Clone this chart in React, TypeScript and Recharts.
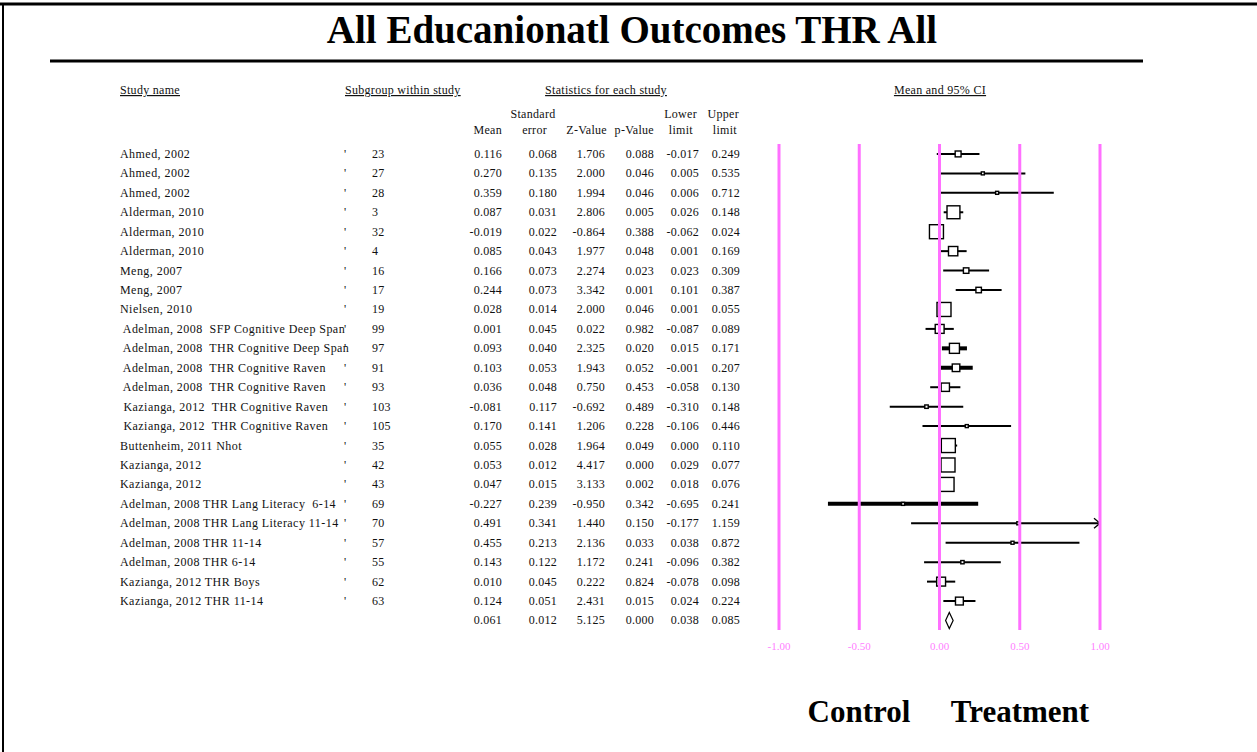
import React from 'react';
import { ComposedChart, Bar, XAxis, YAxis, ReferenceLine } from 'recharts';

// ---- Study data -------------------------------------------------------
const studyNames = [
  'Ahmed, 2002', 'Ahmed, 2002', 'Ahmed, 2002',
  'Alderman, 2010', 'Alderman, 2010', 'Alderman, 2010',
  'Meng, 2007', 'Meng, 2007', 'Nielsen, 2010',
  ' Adelman, 2008  SFP Cognitive Deep Span',
  ' Adelman, 2008  THR Cognitive Deep Span',
  ' Adelman, 2008  THR Cognitive Raven',
  ' Adelman, 2008  THR Cognitive Raven',
  ' Kazianga, 2012  THR Cognitive Raven',
  ' Kazianga, 2012  THR Cognitive Raven',
  'Buttenheim, 2011 Nhot',
  'Kazianga, 2012', 'Kazianga, 2012',
  'Adelman, 2008 THR Lang Literacy  6-14',
  'Adelman, 2008 THR Lang Literacy 11-14',
  'Adelman, 2008 THR 11-14',
  'Adelman, 2008 THR 6-14',
  'Kazianga, 2012 THR Boys',
  'Kazianga, 2012 THR 11-14',
];
const subgroups = ['23', '27', '28', '3', '32', '4', '16', '17', '19', '99', '97', '91', '93', '103', '105', '35', '42', '43', '69', '70', '57', '55', '62', '63'];
const means = [0.116, 0.270, 0.359, 0.087, -0.019, 0.085, 0.166, 0.244, 0.028, 0.001, 0.093, 0.103, 0.036, -0.081, 0.170, 0.055, 0.053, 0.047, -0.227, 0.491, 0.455, 0.143, 0.010, 0.124];
const stdErrors = [0.068, 0.135, 0.180, 0.031, 0.022, 0.043, 0.073, 0.073, 0.014, 0.045, 0.040, 0.053, 0.048, 0.117, 0.141, 0.028, 0.012, 0.015, 0.239, 0.341, 0.213, 0.122, 0.045, 0.051];
const zValues = [1.706, 2.000, 1.994, 2.806, -0.864, 1.977, 2.274, 3.342, 2.000, 0.022, 2.325, 1.943, 0.750, -0.692, 1.206, 1.964, 4.417, 3.133, -0.950, 1.440, 2.136, 1.172, 0.222, 2.431];
const pValues = [0.088, 0.046, 0.046, 0.005, 0.388, 0.048, 0.023, 0.001, 0.046, 0.982, 0.020, 0.052, 0.453, 0.489, 0.228, 0.049, 0.000, 0.002, 0.342, 0.150, 0.033, 0.241, 0.824, 0.015];
const lowerLimits = [-0.017, 0.005, 0.006, 0.026, -0.062, 0.001, 0.023, 0.101, 0.001, -0.087, 0.015, -0.001, -0.058, -0.310, -0.106, 0.000, 0.029, 0.018, -0.695, -0.177, 0.038, -0.096, -0.078, 0.024];
const upperLimits = [0.249, 0.535, 0.712, 0.148, 0.024, 0.169, 0.309, 0.387, 0.055, 0.089, 0.171, 0.207, 0.130, 0.148, 0.446, 0.110, 0.077, 0.076, 0.241, 1.159, 0.872, 0.382, 0.098, 0.224];

// Pooled estimate
const pooledMean = 0.061;
const pooledSE = 0.012;
const pooledZ = 5.125;
const pooledP = 0.000;
const pooledLower = 0.038;
const pooledUpper = 0.085;

const axisTicks = [-1, -0.5, 0, 0.5, 1];

// ---- Styling ----------------------------------------------------------
const SERIF = "'Liberation Serif', 'Times New Roman', serif";
const MAGENTA = '#ff70ff';
const TEXT = '#111';
const THICK_ROWS = new Set([10, 11, 18]);
const AXIS_MAX = 1;

type Row = {
  id: string;
  kind: 'study' | 'summary';
  name: string;
  subgroup: string;
  mean: number;
  se: number;
  z: number;
  p: number;
  lower: number;
  upper: number;
  ci: [number, number];
  idx: number;
};

const rows: Row[] = [
  ...studyNames.map((name, i) => ({
    id: `s${i}`,
    kind: 'study' as const,
    name,
    subgroup: subgroups[i],
    mean: means[i],
    se: stdErrors[i],
    z: zValues[i],
    p: pValues[i],
    lower: lowerLimits[i],
    upper: upperLimits[i],
    ci: [lowerLimits[i], upperLimits[i]] as [number, number],
    idx: i,
  })),
  {
    id: 'pooled',
    kind: 'summary',
    name: '',
    subgroup: '',
    mean: pooledMean,
    se: pooledSE,
    z: pooledZ,
    p: pooledP,
    lower: pooledLower,
    upper: pooledUpper,
    ci: [pooledLower, pooledUpper],
    idx: studyNames.length,
  },
];

const rowById = new Map(rows.map((r) => [r.id, r]));
const f3 = (v: number) => v.toFixed(3);

// Statistics columns: right edges of each numeric column
const numCols: { key: keyof Row; right: number }[] = [
  { key: 'mean', right: 502 },
  { key: 'se', right: 557 },
  { key: 'z', right: 605 },
  { key: 'p', right: 654 },
  { key: 'lower', right: 699 },
  { key: 'upper', right: 740 },
];

// Renders the table part of each row, aligned on the category band
const RowText = (props: any) => {
  const { y, payload } = props;
  const row = rowById.get(payload.value);
  if (!row) return null;
  const common = { y, dy: '0.35em', fontSize: 12, fontFamily: SERIF, fill: TEXT, letterSpacing: 0.25 };
  return (
    <g>
      {row.kind === 'study' && (
        <>
          <text {...common} letterSpacing={0.45} x={120} style={{ whiteSpace: 'pre' }}>{row.name}</text>
          <text {...common} x={344}>'</text>
          <text {...common} x={372}>{row.subgroup}</text>
        </>
      )}
      {numCols.map((c) => (
        <text key={c.key} {...common} x={c.right} textAnchor="end">
          {f3(row[c.key] as number)}
        </text>
      ))}
    </g>
  );
};

// Confidence interval line, weighted square, or pooled diamond
const ForestMark = (props: any) => {
  const { x, y, width, height, payload } = props;
  const row: Row = payload;
  if (!row || width == null) return null;
  const lo = row.lower;
  const hi = row.upper;
  const px = (v: number) => x + (width * (v - lo)) / (hi - lo);
  const cy = y + height / 2;
  if (row.kind === 'summary') {
    const xl = px(lo);
    const xr = px(hi);
    const xm = px(row.mean);
    return (
      <polygon
        points={`${xl},${cy} ${xm},${cy - 8} ${xr},${cy} ${xm},${cy + 8}`}
        fill="#fff"
        stroke="#000"
        strokeWidth={1.2}
      />
    );
  }
  const clipped = hi > AXIS_MAX;
  const xl = px(lo);
  const xr = px(clipped ? AXIS_MAX : hi);
  const xm = px(row.mean);
  const size = Math.max(3, Math.min(14, 0.4 / row.se));
  const sw = THICK_ROWS.has(row.idx) ? 4 : 2;
  return (
    <g>
      <line x1={xl} y1={cy} x2={xr} y2={cy} stroke="#000" strokeWidth={sw} />
      {clipped && (
        <polyline
          points={`${xr - 6},${cy - 5} ${xr},${cy} ${xr - 6},${cy + 5}`}
          fill="none"
          stroke="#000"
          strokeWidth={1.3}
        />
      )}
      <rect
        x={xm - size / 2}
        y={cy - size / 2}
        width={size}
        height={size}
        fill="#fff"
        stroke="#000"
        strokeWidth={1.4}
      />
    </g>
  );
};

const W = 1257;
const H = 752;

export default function App() {
  const hdr = { fontSize: 12, fontFamily: SERIF, fill: TEXT, letterSpacing: 0.3 };
  return (
    <div style={{ position: 'absolute', left: 0, top: 0, width: W, height: H, background: '#fff', overflow: 'hidden' }}>
      <ComposedChart
        width={W}
        height={H}
        layout="vertical"
        data={rows}
        margin={{ top: 144, right: 157, bottom: 92, left: 0 }}
      >
        <XAxis
          type="number"
          domain={[-1, 1]}
          allowDataOverflow
          ticks={axisTicks}
          tickFormatter={(v: number) => v.toFixed(2)}
          axisLine={false}
          tickLine={false}
          tickMargin={6}
          height={30}
          tick={{ fill: '#ff80ff', fontSize: 11, fontFamily: SERIF }}
        />
        <YAxis
          type="category"
          dataKey="id"
          width={779}
          interval={0}
          axisLine={false}
          tickLine={false}
          tick={RowText}
        />
        {axisTicks.map((t) => (
          <ReferenceLine key={t} x={t} stroke={MAGENTA} strokeWidth={3} />
        ))}
        <Bar dataKey="ci" shape={ForestMark} isAnimationActive={false} />
      </ComposedChart>

      <svg
        width={W}
        height={H}
        style={{ position: 'absolute', left: 0, top: 0, pointerEvents: 'none' }}
      >
        {/* frame */}
        <line x1={0} y1={4} x2={W} y2={4} stroke="#000" strokeWidth={3} />
        <line x1={3} y1={3} x2={3} y2={H} stroke="#000" strokeWidth={2} />

        {/* title and rule */}
        <text x={632} y={43} textAnchor="middle" fontFamily={SERIF} fontWeight="bold" fontSize={39} fill="#000">
          All Educanionatl Outcomes THR All
        </text>
        <line x1={50} y1={61} x2={1143} y2={61} stroke="#000" strokeWidth={3} />

        {/* column group headers */}
        <text {...hdr} x={120} y={94} textDecoration="underline">Study name</text>
        <text {...hdr} x={345} y={94} textDecoration="underline">Subgroup within study</text>
        <text {...hdr} x={606} y={94} textAnchor="middle" textDecoration="underline">Statistics for each study</text>
        <text {...hdr} x={940} y={94} textAnchor="middle" textDecoration="underline">Mean and 95% CI</text>

        {/* statistic headers */}
        <text {...hdr} x={533} y={118} textAnchor="middle">Standard</text>
        <text {...hdr} x={697} y={118} textAnchor="end">Lower</text>
        <text {...hdr} x={739} y={118} textAnchor="end">Upper</text>
        <text {...hdr} x={502} y={134} textAnchor="end">Mean</text>
        <text {...hdr} x={547} y={134} textAnchor="end">error</text>
        <text {...hdr} x={607} y={134} textAnchor="end">Z-Value</text>
        <text {...hdr} x={654} y={134} textAnchor="end">p-Value</text>
        <text {...hdr} x={693} y={134} textAnchor="end">limit</text>
        <text {...hdr} x={737} y={134} textAnchor="end">limit</text>

        {/* direction labels */}
        <text x={859} y={722} textAnchor="middle" fontFamily={SERIF} fontWeight="bold" fontSize={31} fill="#000">Control</text>
        <text x={1020} y={722} textAnchor="middle" fontFamily={SERIF} fontWeight="bold" fontSize={31} fill="#000">Treatment</text>
      </svg>
    </div>
  );
}
